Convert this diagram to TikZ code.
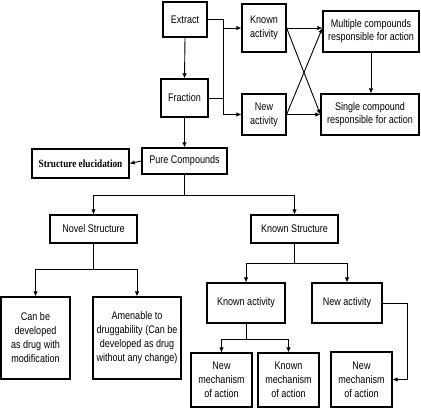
\documentclass[tikz,border=0pt]{standalone}
\usepackage{fontspec}
\setmainfont{Liberation Sans}[FakeStretch=0.82]
\newfontfamily\serifbox{Liberation Serif}[FakeStretch=0.84]
\usetikzlibrary{arrows.meta}
\definecolor{flowcolor0000}{RGB}{255,255,255}
\definecolor{flowcolor0001}{RGB}{0,0,0}
\begin{document}
\begin{tikzpicture}[yscale=-1
,bstyle1/.style={draw=flowcolor0001,fill=flowcolor0000,line width=1.2pt,align=center,inner sep=0pt,font=\fontsize{11}{14}\selectfont}
,cstyle1/.style={color=flowcolor0001,line width=0.9pt}
,cstyle2/.style={cstyle1,-{Latex[length=5pt,width=4.5pt]}}
]
\useasboundingbox[fill=flowcolor0000] (0pt,0pt) rectangle (421pt,408pt);
\node (extract) at (185pt,19.5pt)[bstyle1,minimum width=44pt,minimum height=35pt]{Extract};
\node (fraction) at (184.5pt,98pt)[bstyle1,minimum width=47pt,minimum height=38pt]{Fraction};
\node (knownact) at (264pt,28pt)[bstyle1,minimum width=44pt,minimum height=48pt]{Known\\activity};
\node (newact) at (264pt,114.5pt)[bstyle1,minimum width=44pt,minimum height=41pt]{New\\activity};
\node (multiple) at (371pt,31.5pt)[bstyle1,minimum width=96pt,minimum height=41pt,font=\fontsize{11}{13}\selectfont]{Multiple compounds\\responsible for action};
\node (single) at (370pt,114.5pt)[bstyle1,minimum width=98pt,minimum height=41pt,font=\fontsize{11}{13}\selectfont]{Single compound\\responsible for action};
\node (pure) at (184.5pt,161pt)[bstyle1,minimum width=85pt,minimum height=26pt]{Pure Compounds};
\node (elucid) at (80.5pt,163.5pt)[bstyle1,minimum width=97pt,minimum height=29pt,font=\serifbox\bfseries\fontsize{11}{13}\selectfont]{Structure elucidation};
\node (novel) at (93.5pt,229pt)[bstyle1,minimum width=87pt,minimum height=28pt]{Novel Structure};
\node (knownstr) at (294.5pt,229pt)[bstyle1,minimum width=87pt,minimum height=28pt]{Known Structure};
\node (candev) at (35.5pt,338pt)[bstyle1,minimum width=69pt,minimum height=82pt]{Can be\\developed\\as drug with\\modification};
\node (amenable) at (137pt,338pt)[bstyle1,minimum width=88pt,minimum height=82pt]{Amenable to\\druggability (Can be\\developed as drug\\without any change)};
\node (knownact2) at (246pt,303pt)[bstyle1,minimum width=78pt,minimum height=40pt]{Known activity};
\node (newact2) at (347pt,303pt)[bstyle1,minimum width=70pt,minimum height=40pt]{New activity};
\node (newmech1) at (221.5pt,380pt)[bstyle1,minimum width=61pt,minimum height=54pt]{New\\mechanism\\of action};
\node (knownmech) at (288.5pt,380pt)[bstyle1,minimum width=61pt,minimum height=54pt]{Known\\mechanism\\of action};
\node (newmech2) at (361.5pt,379.5pt)[bstyle1,minimum width=61pt,minimum height=55pt]{New\\mechanism\\of action};
\coordinate (bus) at (223pt,0pt);
\coordinate (purejoin) at (184.5pt,195pt);
\coordinate (noveljoin) at (93.5pt,269pt);
\coordinate (knownjoin) at (294.5pt,263pt);
\coordinate (actjoin) at (246pt,339pt);
% top part
\draw[cstyle2] (extract.south) -- (fraction.north);
\draw[cstyle2] (extract.east) -| (newact.west -| bus) -- (newact.west);
\draw[cstyle2] (knownact.west -| bus) -- (knownact.west);
\draw[cstyle1] (fraction.east) -- (fraction.east -| bus);
\draw[cstyle2] (knownact.east) -- (knownact.east -| multiple.west);
\draw[cstyle2] (newact.east) -- (single.west);
\draw[cstyle2] (knownact.east) -- (single.west);
\draw[cstyle2] (newact.east) -- (knownact.east -| multiple.west);
\draw[cstyle2] (multiple.south) -- (multiple.south |- single.north);
\draw[cstyle2] (fraction.south) -- (pure.north);
\draw[cstyle2] (pure.west) -- (elucid.east);
% structures
\draw[cstyle1] (pure.south) -- (purejoin);
\draw[cstyle2] (purejoin) -| (novel.north);
\draw[cstyle2] (purejoin) -| (knownstr.north);
\draw[cstyle1] (novel.south) -- (noveljoin);
\draw[cstyle2] (noveljoin) -| (candev.north);
\draw[cstyle2] (noveljoin) -| (amenable.north);
\draw[cstyle1] (knownstr.south) -- (knownjoin);
\draw[cstyle2] (knownjoin) -| (knownact2.north);
\draw[cstyle2] (knownjoin) -| (newact2.north);
\draw[cstyle1] (knownact2.south) -- (actjoin);
\draw[cstyle2] (actjoin) -| (newmech1.north);
\draw[cstyle2] (actjoin) -| (knownmech.north);
\draw[cstyle2] (newact2.east) -- ++(25pt,0pt) |- (newmech2.east);
\end{tikzpicture}
\end{document}
